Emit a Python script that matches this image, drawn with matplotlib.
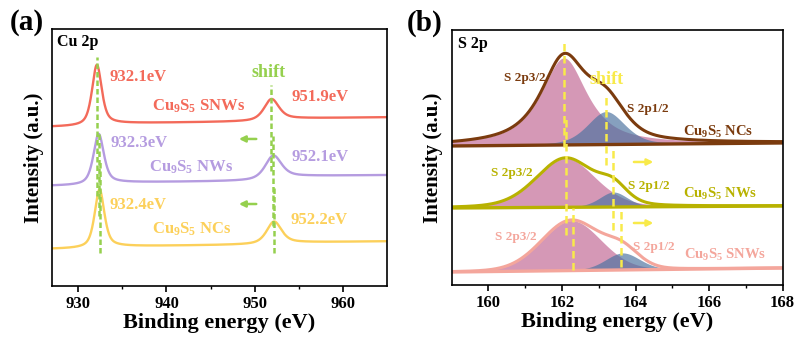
import numpy as np
import matplotlib
matplotlib.use("Agg")
import matplotlib.pyplot as plt

plt.rcParams["font.family"] = ["Liberation Serif", "DejaVu Serif"]
plt.rcParams["font.weight"] = "bold"
plt.rcParams["mathtext.fontset"] = "custom"
plt.rcParams["mathtext.rm"] = "Liberation Serif:bold"
plt.rcParams["mathtext.it"] = "Liberation Serif:bold"
plt.rcParams["mathtext.bf"] = "Liberation Serif:bold"

# ---------------- Cu 2p data ----------------
cu_samples = ["SNWs", "NWs", "NCs"]
cu_colors = ["#f36a5a", "#b59ce0", "#fcd05a"]
cu_p32_center = [932.1, 932.3, 932.4]
cu_p12_center = [951.9, 952.1, 952.2]
cu_p32_height = [60, 50, 58]
cu_p12_height = [21, 23, 22]
cu_p32_fwhm = [1.3, 1.4, 1.3]
cu_p12_fwhm = [2.0, 2.2, 2.0]
cu_base = [159, 100, 37]        # intensity offset at 927 eV
cu_slope = [0.1, 0.08, 0.1]
cu_step1 = [3, 3, 2]
cu_step2 = [3, 5, 2]
cu_peak_labels = [["932.1eV", "951.9eV"], ["932.3eV", "952.1eV"], ["932.4eV", "952.2eV"]]

# ---------------- S 2p data ----------------
s_samples = ["NCs", "NWs", "SNWs"]
s_colors = ["#7b3b0e", "#b8b200", "#f4a69c"]
s_base_lo = [139, 77, 13]       # baseline at 159 eV
s_base_hi = [142, 79, 17]       # baseline at 168 eV
s_p32_center = [162.05, 162.1, 162.25]
s_p32_height = [87, 49, 50]
s_p32_fwhm = [1.5, 1.9, 1.9]
s_p32_eta = [0.85, 0.25, 0.1]
s_p12_center = [163.2, 163.4, 163.65]
s_p12_height = [33, 15, 17]
s_p12_fwhm = [1.2, 0.9, 1.1]
s_p12_eta = [0.4, 0.3, 0.2]


def pvoigt(x, c, h, w, eta):
    g = np.exp(-4 * np.log(2) * ((x - c) / w) ** 2)
    l = 1 / (1 + 4 * ((x - c) / w) ** 2)
    return h * (eta * l + (1 - eta) * g)


def step(x, c, w):
    return 0.5 + np.arctan(2 * (x - c) / w) / np.pi


fig = plt.figure(figsize=(8.11, 3.48), dpi=100)
ax1 = fig.add_axes([0.064, 0.178, 0.413, 0.739])
ax2 = fig.add_axes([0.557, 0.181, 0.408, 0.733])

# ---------- panel (a) ----------
x = np.linspace(927, 965, 1500)
for i in range(3):
    bg = (cu_base[i] + cu_slope[i] * (x - 927)
          + cu_step1[i] * step(x, cu_p32_center[i], 1.5)
          + cu_step2[i] * step(x, cu_p12_center[i], 2.0))
    y = (bg + pvoigt(x, cu_p32_center[i], cu_p32_height[i], cu_p32_fwhm[i], 0.6)
         + pvoigt(x, cu_p12_center[i], cu_p12_height[i], cu_p12_fwhm[i], 0.6))
    ax1.plot(x, y, color=cu_colors[i], lw=1.7)

green = "#95d04e"
cu_vlines = [(932.1, 90, 229), (932.3, 70, 153), (932.4, 33, 126),
             (951.9, 115, 201), (952.1, 60, 150), (952.2, 33, 100)]
for xv, y0, y1 in cu_vlines:
    ax1.plot([xv, xv], [y0, y1], color=green, lw=1.8, dashes=(2.2, 1.2))

for ya in [147, 82]:
    ax1.annotate("", xy=(947.9, ya), xytext=(950.5, ya),
                 arrowprops=dict(arrowstyle="-|>", color=green, lw=1.8, mutation_scale=9))
ax1.text(951.6, 213, "shift", color=green, fontsize=13, ha="center", va="center")

lab_y = [[209, 189], [143, 129], [81, 66]]
lab_x = [[933.5, 954.2], [933.7, 954.2], [933.5, 954.1]]
name_y = [180, 119, 57]
name_x = [938.3, 938.0, 938.3]
for i in range(3):
    for k in range(2):
        ax1.text(lab_x[i][k], lab_y[i][k], cu_peak_labels[i][k], color=cu_colors[i],
                 fontsize=12, ha="left", va="center")
    ax1.text(name_x[i], name_y[i], r"Cu$_{9}$S$_{5}$ " + cu_samples[i], color=cu_colors[i],
             fontsize=12, ha="left", va="center")

ax1.text(0.015, 0.95, "Cu 2p", transform=ax1.transAxes, fontsize=11.5, ha="left", va="center")
ax1.set_xlim(927, 965)
ax1.set_ylim(0, 257)
ax1.set_xticks([930, 940, 950, 960])
ax1.set_xticks([935, 945, 955], minor=True)

# ---------- panel (b) ----------
xs = np.linspace(159, 168, 1500)
pink = "#c8769e"
blue = "#4d73a0"
for i in range(3):
    base = s_base_lo[i] + (s_base_hi[i] - s_base_lo[i]) * (xs - 159) / 9
    p32 = pvoigt(xs, s_p32_center[i], s_p32_height[i], s_p32_fwhm[i], s_p32_eta[i])
    p12 = pvoigt(xs, s_p12_center[i], s_p12_height[i], s_p12_fwhm[i], s_p12_eta[i])
    ax2.fill_between(xs, base, base + p32, color=pink, alpha=0.75, lw=0)
    ax2.fill_between(xs, base, base + p12, color=blue, alpha=0.68, lw=0)
    ax2.plot(xs, base, color=s_colors[i], lw=2.4)
    ax2.plot(xs, base + p32 + p12, color=s_colors[i], lw=2.2)

yellow = "#f8ea4a"
s_vlines = [(162.05, 138, 243), (162.1, 50, 170), (162.3, 15, 77),
            (163.2, 120, 190), (163.4, 55, 135), (163.6, 18, 75)]
for xv, y0, y1 in s_vlines:
    ax2.plot([xv, xv], [y0, y1], color=yellow, lw=1.8, dashes=(3, 1.8))

for ya in [123, 62]:
    ax2.annotate("", xy=(164.56, ya), xytext=(163.88, ya),
                 arrowprops=dict(arrowstyle="-|>", color=yellow, lw=1.8, mutation_scale=9))
ax2.text(163.2, 205, "shift", color=yellow, fontsize=13, ha="center", va="center")

p32_pos = [(160.98, 207), (160.64, 112), (160.73, 48)]
p12_pos = [(164.33, 176), (164.36, 99), (164.5, 38)]
s_name_pos = [(166.25, 153), (166.3, 91), (166.44, 30)]
for i in range(3):
    ax2.text(*p32_pos[i], "S 2p3/2", color=s_colors[i], fontsize=9.5, ha="center", va="center")
    ax2.text(*p12_pos[i], "S 2p1/2", color=s_colors[i], fontsize=9.5, ha="center", va="center")
    ax2.text(*s_name_pos[i], r"Cu$_{9}$S$_{5}$ " + s_samples[i], color=s_colors[i],
             fontsize=10.5, ha="center", va="center")

ax2.text(0.018, 0.945, "S 2p", transform=ax2.transAxes, fontsize=11.5, ha="left", va="center")
ax2.set_xlim(159, 168)
ax2.set_ylim(0, 255)
ax2.set_xticks([160, 162, 164, 166, 168])
ax2.set_xticks([161, 163, 165, 167], minor=True)

for ax in [ax1, ax2]:
    ax.set_yticks([])
    for sp in ax.spines.values():
        sp.set_linewidth(1.2)
    ax.tick_params(axis="x", which="major", direction="out", length=4, width=1.2,
                   labelsize=12, pad=3)
    ax.tick_params(axis="x", which="minor", direction="out", length=2.5, width=1.0)
    ax.set_xlabel("Binding energy (eV)", fontsize=16, fontweight="bold", labelpad=1)
    ax.set_ylabel("Intensity (a.u.)", fontsize=15, fontweight="bold", labelpad=6)
    for t in ax.get_xticklabels():
        t.set_fontweight("bold")

fig.text(0.033, 0.934, "(a)", fontsize=21, fontweight="bold", ha="center", va="center")
fig.text(0.524, 0.934, "(b)", fontsize=21, fontweight="bold", ha="center", va="center")

fig.savefig("out.png", dpi=100)
